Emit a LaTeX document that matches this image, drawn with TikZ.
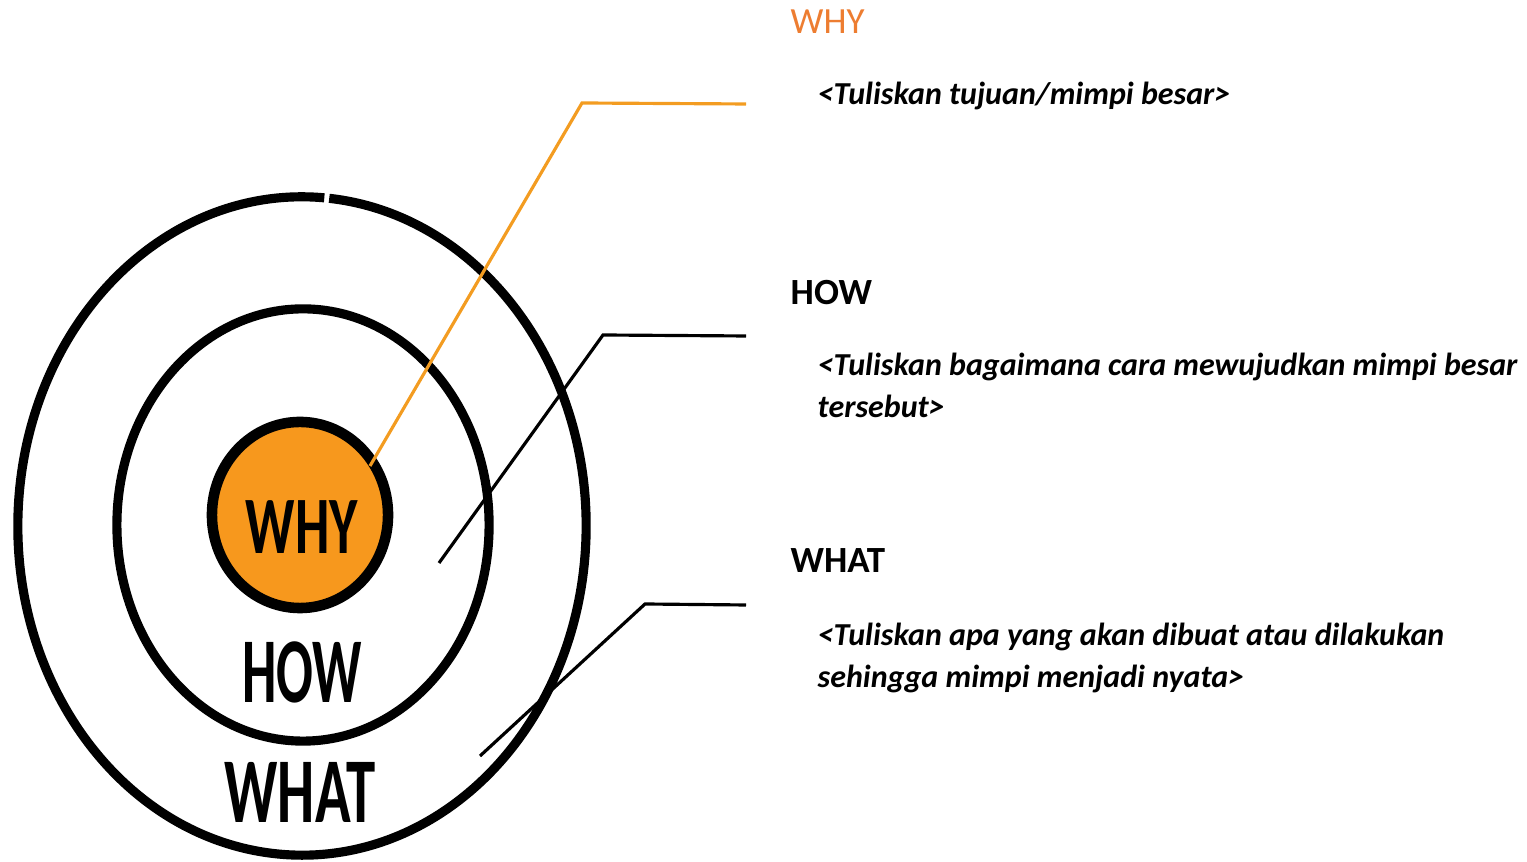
\documentclass[tikz,border=0pt]{standalone}
\usepackage{fontspec}
\setmainfont{Carlito}
\definecolor{whyor}{HTML}{ED7D31}
\definecolor{circor}{HTML}{F7981D}
\definecolor{lineor}{HTML}{F39C21}
\begin{document}
\begin{tikzpicture}[x=0.01cm,y=-0.01cm,
  ring/.style={line width=2.6pt, black},
  hand/.style={font=\fontsize{15.5}{15.5}\selectfont\bfseries, yscale=1.7, inner sep=0, anchor=center},
  head/.style={anchor=base west, inner sep=0, font=\fontsize{10.5}{12}\selectfont\bfseries},
  desc/.style={anchor=base west, inner sep=0, align=left, font=\fontsize{9.1}{12}\selectfont\bfseries\itshape},
  conn/.style={line width=0.9pt}]
\useasboundingbox (0,0) rectangle (1527,862);
% rings
\draw[ring] (302,526) ++(85.5:2.84cm and 3.29cm) arc[start angle=85.5, end angle=444.5, x radius=2.84cm, y radius=3.29cm];
\draw[ring] (303,525) ellipse [x radius=1.86cm, y radius=2.16cm];
\draw[ring, line width=3pt, fill=circor] (300,515) ellipse [x radius=0.88cm, y radius=0.93cm];
% hand labels
\node[hand, yscale=0.88] (lwhy) at (302,527) {WHY};
\node[hand] (lhow) at (302,672) {HOW};
\node[hand, xscale=1.08] (lwhat) at (300,792) {WHAT};
% right texts
\node[head, text=whyor, font=\fontsize{10.5}{12}\selectfont] (twhy) at (790,34) {WHY};
\node[desc] (dwhy) at (817,105) {<Tuliskan tujuan/mimpi besar>};
\node[head] (thow) at (790,305) {HOW};
\node[desc] (dhow) at (817,418) {<Tuliskan bagaimana cara mewujudkan mimpi besar\\tersebut>};
\node[head] (twhat) at (790,573) {WHAT};
\node[desc] (dwhat) at (817,688) {<Tuliskan apa yang akan dibuat atau dilakukan\\sehingga mimpi menjadi nyata>};
% connectors
\coordinate (a1) at (370,466); \coordinate (a2) at (582,103); \coordinate (a3) at (746,104);
\coordinate (b1) at (439,563); \coordinate (b2) at (603,335); \coordinate (b3) at (746,336);
\coordinate (c1) at (480,756); \coordinate (c2) at (645,604); \coordinate (c3) at (746,605);
\draw[conn, lineor] (a1) -- (a2) -- (a3);
\draw[conn] (b1) -- (b2) -- (b3);
\draw[conn] (c1) -- (c2) -- (c3);
\end{tikzpicture}
\end{document}
